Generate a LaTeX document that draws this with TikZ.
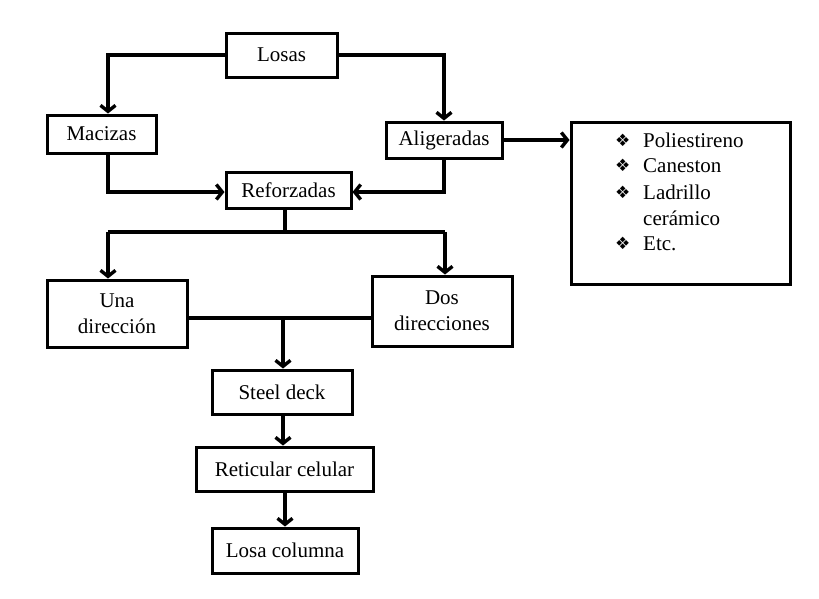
\documentclass[tikz,border=0pt]{standalone}
\usepackage{fontspec}
\setmainfont{Liberation Serif}
\newfontfamily\symfont{DejaVu Sans}
\usetikzlibrary{arrows.meta}
\tikzset{
  box/.style={draw, line width=3pt, rectangle, inner sep=0pt, align=center,
    font=\fontsize{21}{26}\selectfont},
  link/.style={line width=3.4pt},
  arr/.style={link, -{Straight Barb[length=6pt,width=15pt]}},
  item/.style={anchor=base west, inner sep=0pt, font=\fontsize{21}{26}\selectfont},
  bul/.style={anchor=base west, inner sep=0pt, font=\symfont\fontsize{17}{20}\selectfont},
}
\begin{document}
\begin{tikzpicture}[x=1pt,y=-1pt]
\useasboundingbox (0,0) rectangle (819,598);

% boxes
\node[box, minimum width=111pt, minimum height=44pt] (losas) at (281.5,55) {Losas};
\node[box, minimum width=109pt, minimum height=38pt] (mac) at (101.5,134) {Macizas};
\node[box, minimum width=116pt, minimum height=36pt] (alig) at (444,140) {Aligeradas};
\node[box, minimum width=125pt, minimum height=36pt] (ref) at (288.5,190) {Reforzadas};
\node[box, minimum width=219pt, minimum height=162pt] (list) at (680.5,203) {};
\node[box, minimum width=140pt, minimum height=67pt] (una) at (117,313.5) {Una\\direcci\'on};
\node[box, minimum width=140pt, minimum height=70pt] (dos) at (442,311) {Dos\\direcciones};
\node[box, minimum width=140pt, minimum height=44pt] (steel) at (282,392) {Steel deck};
\node[box, minimum width=177pt, minimum height=44pt] (ret) at (284.5,469) {Reticular celular};
\node[box, minimum width=146pt, minimum height=45pt] (losacol) at (285,550.5) {Losa columna};

% list of lightening materials
\node[bul] (b1) at (615,146) {❖};
\node[item] (t1) at (643,147) {Poliestireno};
\node[bul] (b2) at (615,171) {❖};
\node[item] (t2) at (643,172) {Caneston};
\node[bul] (b3) at (615,198) {❖};
\node[item] (t3) at (643,199) {Ladrillo};
\node[item] (t4) at (643,225) {cer\'amico};
\node[bul] (b5) at (615,249) {❖};
\node[item] (t5) at (643,250) {Etc.};

% routing points
\coordinate (lx) at (108,55);
\coordinate (rx) at (444,55);
\coordinate (jy) at (0,192);
\coordinate (fk) at (285,232);
\coordinate (ux) at (108,232);
\coordinate (dx) at (445,232);
\coordinate (m) at (283,318);

% connectors
\draw[arr] (losas.west) -- (losas.west -| lx) -- (mac.north -| lx);
\draw[arr] (losas.east) -- (losas.east -| rx) -- (alig.north -| rx);
\draw[arr] (mac.south -| lx) -- (lx |- jy) -- (ref.west |- jy);
\draw[arr] (alig.south) -- (alig.south |- jy) -- (ref.east |- jy);
\draw[arr] (alig.east) -- (list.west |- alig.east);
\draw[link] (ref.south -| fk) -- (fk);
\draw[link] (ux) -- (dx);
\draw[arr] (ux) -- (una.north -| ux);
\draw[arr] (dx) -- (dos.north -| dx);
\draw[link] (una.east |- m) -- (dos.west |- m);
\draw[arr] (m) -- (steel.north -| m);
\draw[arr] (steel.south -| m) -- (ret.north -| m);
\draw[arr] (ret.south -| losacol.north) -- (losacol.north);
\end{tikzpicture}
\end{document}
